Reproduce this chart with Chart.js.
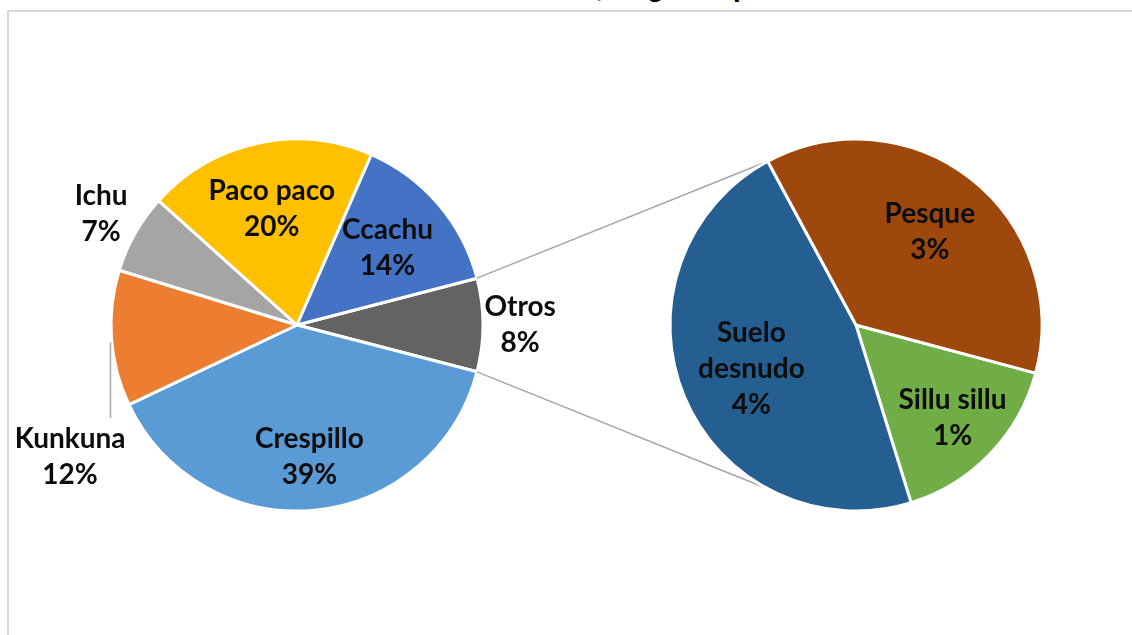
<!DOCTYPE html>
<html>
<head>
<meta charset="utf-8">
<script src="https://cdn.jsdelivr.net/npm/chart.js@4"></script>
<style>
  body { margin: 0; background: #fff; overflow: hidden; }
  #wrap { position: relative; width: 1132px; height: 635px; overflow: hidden; }
  #frame { position: absolute; left: 7px; top: 10px; width: 1200px; height: 700px; border: 2px solid #d9d9d9; }
  #title { position: absolute; left: 0; width: 1140px; top: -27px; text-align: center;
           font: bold 28px "Liberation Sans", Arial, sans-serif; line-height: 28px; color: #000; }
  canvas { position: absolute; left: 0; top: 0; }
</style>
</head>
<body>
<div id="wrap">
  <div id="title">Distrito de Antabamba, Región Apurímac</div>
  <div id="frame"></div>
  <canvas id="leftPie" width="1132" height="635"></canvas>
  <canvas id="rightPie" width="1132" height="635"></canvas>
</div>
<script>
// second pie (breakdown of "Otros")
const rightLabels = ["Sillu sillu", "Suelo desnudo", "Pesque"];
const rightValues = [1.3, 3.8, 3.0];
const rightColors = ["#70AD47", "#255E91", "#9E480E"];

// main pie, "Otros" is the sum of the second pie
const otros = rightValues.reduce((a, b) => a + b, 0);
const leftLabels = ["Otros", "Crespillo", "Kunkuna", "Ichu", "Paco paco", "Ccachu"];
const leftValues = [otros, 38.9, 11.8, 6.9, 19.9, 14.4];
const leftColors = ["#636363", "#5B9BD5", "#ED7D31", "#A5A5A5", "#FFC000", "#4472C4"];

const labelFont = "bold 28px Lato, 'Liberation Sans', sans-serif";
const lineGap = 36;
const grey = "#A6A6A6";

// where each label sits, as a fraction of the radius along the slice middle
const labelDist = {
  "Otros": 1.2, "Crespillo": 0.71, "Ichu": 1.21, "Paco paco": 0.64, "Ccachu": 0.64,
  "Sillu sillu": 0.72, "Suelo desnudo": 0.61, "Pesque": 0.64
};

function textLines(name, v) {
  const pct = Math.round(v) + "%";
  if (name === "Suelo desnudo") return ["Suelo", "desnudo", pct];
  return [name, pct];
}

function drawLines(ctx, lines, x, y) {
  const top = y - (lines.length - 1) * lineGap / 2;
  lines.forEach((t, i) => ctx.fillText(t, x, top + i * lineGap));
}

const sliceLabels = {
  id: "sliceLabels",
  afterDraw(chart) {
    const ctx = chart.ctx;
    const meta = chart.getDatasetMeta(0);
    const data = chart.data.datasets[0].data;
    ctx.save();
    ctx.font = labelFont;
    ctx.fillStyle = "#0D0D0D";
    ctx.textAlign = "center";
    ctx.textBaseline = "middle";
    meta.data.forEach((arc, i) => {
      const name = chart.data.labels[i];
      const r = arc.outerRadius;
      const mid = (arc.startAngle + arc.endAngle) / 2;
      const lines = textLines(name, data[i]);
      if (name === "Kunkuna") {
        // leader line from the slice edge down to the label
        const ex = arc.x + r * Math.cos(mid) - 1;
        const ey = arc.y + r * Math.sin(mid) + 4;
        ctx.strokeStyle = grey;
        ctx.lineWidth = 1.5;
        ctx.beginPath();
        ctx.moveTo(ex, ey);
        ctx.lineTo(ex, arc.y + 0.5 * r);
        ctx.stroke();
        drawLines(ctx, lines, arc.x - 1.22 * r, arc.y + 0.71 * r);
        return;
      }
      const d = labelDist[name] * r;
      drawLines(ctx, lines, arc.x + d * Math.cos(mid), arc.y + d * Math.sin(mid));
    });
    ctx.restore();
  }
};

const leftChart = new Chart(document.getElementById("leftPie"), {
  type: "pie",
  data: {
    labels: leftLabels,
    datasets: [{ data: leftValues, backgroundColor: leftColors, borderColor: "#fff", borderWidth: 3 }]
  },
  options: {
    responsive: false,
    animation: false,
    rotation: 90 - (otros / 100 * 360) / 2,
    radius: 186,
    layout: { padding: { left: 112, right: 650, top: 140, bottom: 125 } },
    plugins: { legend: { display: false }, tooltip: { enabled: false } }
  },
  plugins: [sliceLabels]
});

// grey lines joining the "Otros" slice to the second pie
const connectors = {
  id: "connectors",
  beforeDatasetsDraw(chart) {
    const a = leftChart.getDatasetMeta(0).data[0];
    const b = chart.getDatasetMeta(0).data[1];
    const ang = b.endAngle;
    const ctx = chart.ctx;
    ctx.save();
    ctx.strokeStyle = grey;
    ctx.lineWidth = 1.5;
    ctx.beginPath();
    ctx.moveTo(a.x + a.outerRadius * Math.cos(a.startAngle), a.y + a.outerRadius * Math.sin(a.startAngle));
    ctx.lineTo(b.x + b.outerRadius * Math.cos(ang), b.y + b.outerRadius * Math.sin(ang));
    ctx.moveTo(a.x + a.outerRadius * Math.cos(a.endAngle), a.y + a.outerRadius * Math.sin(a.endAngle));
    ctx.lineTo(b.x + b.outerRadius * Math.cos(ang), b.y - b.outerRadius * Math.sin(ang));
    ctx.stroke();
    ctx.restore();
  }
};

new Chart(document.getElementById("rightPie"), {
  type: "pie",
  data: {
    labels: rightLabels,
    datasets: [{ data: rightValues, backgroundColor: rightColors, borderColor: "#fff", borderWidth: 3 }]
  },
  options: {
    responsive: false,
    animation: false,
    rotation: 105,
    radius: 186,
    layout: { padding: { left: 671, right: 91, top: 140, bottom: 125 } },
    plugins: { legend: { display: false }, tooltip: { enabled: false } }
  },
  plugins: [connectors, sliceLabels]
});
</script>
</body>
</html>
